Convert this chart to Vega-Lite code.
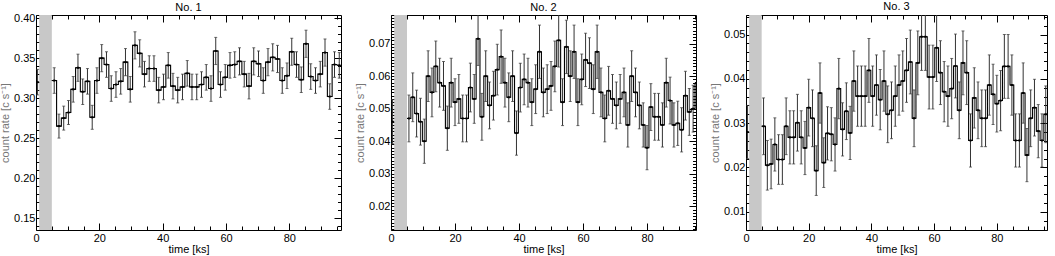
{
"$schema": "https://vega.github.io/schema/vega-lite/v6.json",
"padding": {"left": -1, "top": 0, "right": 0, "bottom": 0},
"bounds": "flush",
"spacing": 50,
"config": {
 "view": {"stroke": "black", "strokeWidth": 1},
 "axis": {"domain": false, "grid": false, "labelFont": "Liberation Sans", "labelFontSize": 11, "labelColor": "black", "titleFont": "Liberation Sans", "titleFontSize": 11, "titleFontWeight": "normal", "titleColor": "#777", "tickColor": "black", "labelOverlap": false, "labelFlush": false},
 "title": {"font": "Liberation Sans", "fontSize": 11, "fontWeight": "normal", "color": "black", "offset": -1, "anchor": "middle"}
},
"datasets": {
 "band": [{"g0": 1, "g1": 5}],
 "p1": [
  {"seg":"a","t0":0,"t":0.5,"t1":1,"r":0.320,"e":0.016},
  {"seg":"b","t0":5,"t":5.75,"t1":6.5,"r":0.322,"e":0.016},
  {"seg":"b","t0":6.5,"t":7.25,"t1":8,"r":0.265,"e":0.015},
  {"seg":"b","t0":8,"t":8.75,"t1":9.5,"r":0.275,"e":0.015},
  {"seg":"b","t0":9.5,"t":10.25,"t1":11,"r":0.282,"e":0.015},
  {"seg":"b","t0":11,"t":11.75,"t1":12.5,"r":0.311,"e":0.016},
  {"seg":"b","t0":12.5,"t":13.25,"t1":14,"r":0.338,"e":0.017},
  {"seg":"b","t0":14,"t":14.75,"t1":15.5,"r":0.308,"e":0.016},
  {"seg":"b","t0":15.5,"t":16.25,"t1":17,"r":0.321,"e":0.016},
  {"seg":"b","t0":17,"t":17.75,"t1":18.5,"r":0.276,"e":0.015},
  {"seg":"b","t0":18.5,"t":19.25,"t1":20,"r":0.322,"e":0.016},
  {"seg":"b","t0":20,"t":20.75,"t1":21.5,"r":0.350,"e":0.017},
  {"seg":"b","t0":21.5,"t":22.25,"t1":23,"r":0.342,"e":0.016},
  {"seg":"b","t0":23,"t":23.75,"t1":24.5,"r":0.312,"e":0.016},
  {"seg":"b","t0":24.5,"t":25.25,"t1":26,"r":0.317,"e":0.016},
  {"seg":"b","t0":26,"t":26.75,"t1":27.5,"r":0.321,"e":0.016},
  {"seg":"b","t0":27.5,"t":28.25,"t1":29,"r":0.345,"e":0.017},
  {"seg":"b","t0":29,"t":29.75,"t1":30.5,"r":0.311,"e":0.016},
  {"seg":"b","t0":30.5,"t":31.25,"t1":32,"r":0.366,"e":0.017},
  {"seg":"b","t0":32,"t":32.75,"t1":33.5,"r":0.356,"e":0.017},
  {"seg":"b","t0":33.5,"t":34.25,"t1":35,"r":0.330,"e":0.016},
  {"seg":"b","t0":35,"t":35.75,"t1":36.5,"r":0.337,"e":0.016},
  {"seg":"b","t0":36.5,"t":37.25,"t1":38,"r":0.337,"e":0.016},
  {"seg":"b","t0":38,"t":38.75,"t1":39.5,"r":0.310,"e":0.016},
  {"seg":"b","t0":39.5,"t":40.25,"t1":41,"r":0.314,"e":0.016},
  {"seg":"b","t0":41,"t":41.75,"t1":42.5,"r":0.341,"e":0.016},
  {"seg":"b","t0":42.5,"t":43.25,"t1":44,"r":0.315,"e":0.016},
  {"seg":"b","t0":44,"t":44.75,"t1":45.5,"r":0.310,"e":0.016},
  {"seg":"b","t0":45.5,"t":46.25,"t1":47,"r":0.314,"e":0.016},
  {"seg":"b","t0":47,"t":47.75,"t1":48.5,"r":0.331,"e":0.016},
  {"seg":"b","t0":48.5,"t":49.25,"t1":50,"r":0.314,"e":0.016},
  {"seg":"b","t0":50,"t":50.75,"t1":51.5,"r":0.314,"e":0.016},
  {"seg":"b","t0":51.5,"t":52.25,"t1":53,"r":0.317,"e":0.016},
  {"seg":"b","t0":53,"t":53.75,"t1":54.5,"r":0.326,"e":0.016},
  {"seg":"b","t0":54.5,"t":55.25,"t1":56,"r":0.312,"e":0.016},
  {"seg":"b","t0":56,"t":56.75,"t1":57.5,"r":0.359,"e":0.017},
  {"seg":"b","t0":57.5,"t":58.25,"t1":59,"r":0.317,"e":0.016},
  {"seg":"b","t0":59,"t":59.75,"t1":60.5,"r":0.326,"e":0.016},
  {"seg":"b","t0":60.5,"t":61.25,"t1":62,"r":0.341,"e":0.016},
  {"seg":"b","t0":62,"t":62.75,"t1":63.5,"r":0.342,"e":0.016},
  {"seg":"b","t0":63.5,"t":64.25,"t1":65,"r":0.346,"e":0.017},
  {"seg":"b","t0":65,"t":65.75,"t1":66.5,"r":0.330,"e":0.016},
  {"seg":"b","t0":66.5,"t":67.25,"t1":68,"r":0.315,"e":0.016},
  {"seg":"b","t0":68,"t":68.75,"t1":69.5,"r":0.346,"e":0.017},
  {"seg":"b","t0":69.5,"t":70.25,"t1":71,"r":0.343,"e":0.016},
  {"seg":"b","t0":71,"t":71.75,"t1":72.5,"r":0.322,"e":0.016},
  {"seg":"b","t0":72.5,"t":73.25,"t1":74,"r":0.345,"e":0.017},
  {"seg":"b","t0":74,"t":74.75,"t1":75.5,"r":0.351,"e":0.017},
  {"seg":"b","t0":75.5,"t":76.25,"t1":77,"r":0.349,"e":0.017},
  {"seg":"b","t0":77,"t":77.75,"t1":78.5,"r":0.322,"e":0.016},
  {"seg":"b","t0":78.5,"t":79.25,"t1":80,"r":0.328,"e":0.016},
  {"seg":"b","t0":80,"t":80.75,"t1":81.5,"r":0.358,"e":0.017},
  {"seg":"b","t0":81.5,"t":82.25,"t1":83,"r":0.342,"e":0.016},
  {"seg":"b","t0":83,"t":83.75,"t1":84.5,"r":0.323,"e":0.016},
  {"seg":"b","t0":84.5,"t":85.25,"t1":86,"r":0.368,"e":0.017},
  {"seg":"b","t0":86,"t":86.75,"t1":87.5,"r":0.327,"e":0.016},
  {"seg":"b","t0":87.5,"t":88.25,"t1":89,"r":0.322,"e":0.016},
  {"seg":"b","t0":89,"t":89.75,"t1":90.5,"r":0.330,"e":0.016},
  {"seg":"b","t0":90.5,"t":91.25,"t1":92,"r":0.357,"e":0.017},
  {"seg":"b","t0":92,"t":92.75,"t1":93.5,"r":0.302,"e":0.016},
  {"seg":"b","t0":93.5,"t":94.25,"t1":95,"r":0.342,"e":0.016},
  {"seg":"b","t0":95,"t":95.75,"t1":96.5,"r":0.341,"e":0.016}
 ],
 "p2": [
  {"seg":"a","t0":0,"t":0.5,"t1":1,"r":0.046,"e":0.0068},
  {"seg":"b","t0":5,"t":5.6,"t1":6.2,"r":0.047,"e":0.0072},
  {"seg":"b","t0":6.2,"t":6.8,"t1":7.4,"r":0.0535,"e":0.0075},
  {"seg":"b","t0":7.4,"t":8,"t1":8.6,"r":0.0485,"e":0.0072},
  {"seg":"b","t0":8.6,"t":9.2,"t1":9.8,"r":0.046,"e":0.0072},
  {"seg":"b","t0":9.8,"t":10.4,"t1":11,"r":0.040,"e":0.0068},
  {"seg":"b","t0":11,"t":11.6,"t1":12.2,"r":0.060,"e":0.0078},
  {"seg":"b","t0":12.2,"t":12.8,"t1":13.4,"r":0.055,"e":0.0075},
  {"seg":"b","t0":13.4,"t":14,"t1":14.6,"r":0.063,"e":0.0078},
  {"seg":"b","t0":14.6,"t":15.2,"t1":15.8,"r":0.058,"e":0.0075},
  {"seg":"b","t0":15.8,"t":16.4,"t1":17,"r":0.057,"e":0.0075},
  {"seg":"b","t0":17,"t":17.6,"t1":18.2,"r":0.044,"e":0.0068},
  {"seg":"b","t0":18.2,"t":18.8,"t1":19.4,"r":0.058,"e":0.0075},
  {"seg":"b","t0":19.4,"t":20,"t1":20.6,"r":0.052,"e":0.0072},
  {"seg":"b","t0":20.6,"t":21.2,"t1":21.8,"r":0.053,"e":0.0075},
  {"seg":"b","t0":21.8,"t":22.4,"t1":23,"r":0.047,"e":0.0072},
  {"seg":"b","t0":23,"t":23.6,"t1":24.2,"r":0.047,"e":0.0072},
  {"seg":"b","t0":24.2,"t":24.8,"t1":25.4,"r":0.0565,"e":0.0075},
  {"seg":"b","t0":25.4,"t":26,"t1":26.6,"r":0.053,"e":0.0075},
  {"seg":"b","t0":26.6,"t":27.2,"t1":27.8,"r":0.0715,"e":0.0082},
  {"seg":"b","t0":27.8,"t":28.4,"t1":29,"r":0.0475,"e":0.0072},
  {"seg":"b","t0":29,"t":29.6,"t1":30.2,"r":0.060,"e":0.0078},
  {"seg":"b","t0":30.2,"t":30.8,"t1":31.4,"r":0.051,"e":0.0072},
  {"seg":"b","t0":31.4,"t":32,"t1":32.6,"r":0.054,"e":0.0075},
  {"seg":"b","t0":32.6,"t":33.2,"t1":33.8,"r":0.062,"e":0.0078},
  {"seg":"b","t0":33.8,"t":34.4,"t1":35,"r":0.066,"e":0.0082},
  {"seg":"b","t0":35,"t":35.6,"t1":36.2,"r":0.058,"e":0.0075},
  {"seg":"b","t0":36.2,"t":36.8,"t1":37.4,"r":0.0535,"e":0.0075},
  {"seg":"b","t0":37.4,"t":38,"t1":38.6,"r":0.060,"e":0.0078},
  {"seg":"b","t0":38.6,"t":39.2,"t1":39.8,"r":0.0425,"e":0.0068},
  {"seg":"b","t0":39.8,"t":40.4,"t1":41,"r":0.0565,"e":0.0075},
  {"seg":"b","t0":41,"t":41.6,"t1":42.2,"r":0.059,"e":0.0078},
  {"seg":"b","t0":42.2,"t":42.8,"t1":43.4,"r":0.058,"e":0.0075},
  {"seg":"b","t0":43.4,"t":44,"t1":44.6,"r":0.052,"e":0.0072},
  {"seg":"b","t0":44.6,"t":45.2,"t1":45.8,"r":0.056,"e":0.0075},
  {"seg":"b","t0":45.8,"t":46.4,"t1":47,"r":0.0675,"e":0.0082},
  {"seg":"b","t0":47,"t":47.6,"t1":48.2,"r":0.055,"e":0.0075},
  {"seg":"b","t0":48.2,"t":48.8,"t1":49.4,"r":0.056,"e":0.0075},
  {"seg":"b","t0":49.4,"t":50,"t1":50.6,"r":0.057,"e":0.0075},
  {"seg":"b","t0":50.6,"t":51.2,"t1":51.8,"r":0.063,"e":0.0078},
  {"seg":"b","t0":51.8,"t":52.4,"t1":53,"r":0.071,"e":0.0082},
  {"seg":"b","t0":53,"t":53.6,"t1":54.2,"r":0.052,"e":0.0072},
  {"seg":"b","t0":54.2,"t":54.8,"t1":55.4,"r":0.069,"e":0.0082},
  {"seg":"b","t0":55.4,"t":56,"t1":56.6,"r":0.060,"e":0.0078},
  {"seg":"b","t0":56.6,"t":57.2,"t1":57.8,"r":0.0675,"e":0.0082},
  {"seg":"b","t0":57.8,"t":58.4,"t1":59,"r":0.052,"e":0.0072},
  {"seg":"b","t0":59,"t":59.6,"t1":60.2,"r":0.059,"e":0.0078},
  {"seg":"b","t0":60.2,"t":60.8,"t1":61.4,"r":0.065,"e":0.0082},
  {"seg":"b","t0":61.4,"t":62,"t1":62.6,"r":0.064,"e":0.0078},
  {"seg":"b","t0":62.6,"t":63.2,"t1":63.8,"r":0.056,"e":0.0075},
  {"seg":"b","t0":63.8,"t":64.4,"t1":65,"r":0.0675,"e":0.0082},
  {"seg":"b","t0":65,"t":65.6,"t1":66.2,"r":0.055,"e":0.0075},
  {"seg":"b","t0":66.2,"t":66.8,"t1":67.4,"r":0.047,"e":0.0072},
  {"seg":"b","t0":67.4,"t":68,"t1":68.6,"r":0.0555,"e":0.0075},
  {"seg":"b","t0":68.6,"t":69.2,"t1":69.8,"r":0.053,"e":0.0075},
  {"seg":"b","t0":69.8,"t":70.4,"t1":71,"r":0.051,"e":0.0072},
  {"seg":"b","t0":71,"t":71.6,"t1":72.2,"r":0.053,"e":0.0075},
  {"seg":"b","t0":72.2,"t":72.8,"t1":73.4,"r":0.055,"e":0.0075},
  {"seg":"b","t0":73.4,"t":74,"t1":74.6,"r":0.045,"e":0.0068},
  {"seg":"b","t0":74.6,"t":75.2,"t1":75.8,"r":0.060,"e":0.0078},
  {"seg":"b","t0":75.8,"t":76.4,"t1":77,"r":0.055,"e":0.0075},
  {"seg":"b","t0":77,"t":77.6,"t1":78.2,"r":0.051,"e":0.0072},
  {"seg":"b","t0":78.2,"t":78.8,"t1":79.4,"r":0.045,"e":0.0068},
  {"seg":"b","t0":79.4,"t":80,"t1":80.6,"r":0.038,"e":0.0068},
  {"seg":"b","t0":80.6,"t":81.2,"t1":81.8,"r":0.0505,"e":0.0072},
  {"seg":"b","t0":81.8,"t":82.4,"t1":83,"r":0.0475,"e":0.0072},
  {"seg":"b","t0":83,"t":83.6,"t1":84.2,"r":0.0475,"e":0.0072},
  {"seg":"b","t0":84.2,"t":84.8,"t1":85.4,"r":0.045,"e":0.0068},
  {"seg":"b","t0":85.4,"t":86,"t1":86.6,"r":0.058,"e":0.0075},
  {"seg":"b","t0":86.6,"t":87.2,"t1":87.8,"r":0.0525,"e":0.0072},
  {"seg":"b","t0":87.8,"t":88.4,"t1":89,"r":0.045,"e":0.0068},
  {"seg":"b","t0":89,"t":89.6,"t1":90.2,"r":0.0455,"e":0.0068},
  {"seg":"b","t0":90.2,"t":90.8,"t1":91.4,"r":0.0435,"e":0.0068},
  {"seg":"b","t0":91.4,"t":92,"t1":92.6,"r":0.054,"e":0.0075},
  {"seg":"b","t0":92.6,"t":93.2,"t1":93.8,"r":0.049,"e":0.0072},
  {"seg":"b","t0":93.8,"t":94.4,"t1":95,"r":0.050,"e":0.0072},
  {"seg":"b","t0":95,"t":95.6,"t1":96.2,"r":0.058,"e":0.0075}
 ],
 "p3": [
  {"seg":"a","t0":0,"t":0.5,"t1":1,"r":0.028,"e":0.006},
  {"seg":"b","t0":5,"t":5.6,"t1":6.2,"r":0.0293,"e":0.0064},
  {"seg":"b","t0":6.2,"t":6.8,"t1":7.4,"r":0.0205,"e":0.0056},
  {"seg":"b","t0":7.4,"t":8,"t1":8.6,"r":0.0208,"e":0.0056},
  {"seg":"b","t0":8.6,"t":9.2,"t1":9.8,"r":0.0252,"e":0.006},
  {"seg":"b","t0":9.8,"t":10.4,"t1":11,"r":0.0218,"e":0.0056},
  {"seg":"b","t0":11,"t":11.6,"t1":12.2,"r":0.0218,"e":0.0056},
  {"seg":"b","t0":12.2,"t":12.8,"t1":13.4,"r":0.0293,"e":0.0064},
  {"seg":"b","t0":13.4,"t":14,"t1":14.6,"r":0.0268,"e":0.006},
  {"seg":"b","t0":14.6,"t":15.2,"t1":15.8,"r":0.0268,"e":0.006},
  {"seg":"b","t0":15.8,"t":16.4,"t1":17,"r":0.0301,"e":0.0064},
  {"seg":"b","t0":17,"t":17.6,"t1":18.2,"r":0.0268,"e":0.006},
  {"seg":"b","t0":18.2,"t":18.8,"t1":19.4,"r":0.0244,"e":0.006},
  {"seg":"b","t0":19.4,"t":20,"t1":20.6,"r":0.0335,"e":0.0064},
  {"seg":"b","t0":20.6,"t":21.2,"t1":21.8,"r":0.0311,"e":0.0064},
  {"seg":"b","t0":21.8,"t":22.4,"t1":23,"r":0.0193,"e":0.0056},
  {"seg":"b","t0":23,"t":23.6,"t1":24.2,"r":0.0368,"e":0.0068},
  {"seg":"b","t0":24.2,"t":24.8,"t1":25.4,"r":0.0211,"e":0.0056},
  {"seg":"b","t0":25.4,"t":26,"t1":26.6,"r":0.0277,"e":0.006},
  {"seg":"b","t0":26.6,"t":27.2,"t1":27.8,"r":0.0275,"e":0.006},
  {"seg":"b","t0":27.8,"t":28.4,"t1":29,"r":0.0252,"e":0.006},
  {"seg":"b","t0":29,"t":29.6,"t1":30.2,"r":0.0378,"e":0.0068},
  {"seg":"b","t0":30.2,"t":30.8,"t1":31.4,"r":0.0286,"e":0.006},
  {"seg":"b","t0":31.4,"t":32,"t1":32.6,"r":0.0327,"e":0.0064},
  {"seg":"b","t0":32.6,"t":33.2,"t1":33.8,"r":0.0278,"e":0.006},
  {"seg":"b","t0":33.8,"t":34.4,"t1":35,"r":0.0395,"e":0.0068},
  {"seg":"b","t0":35,"t":35.6,"t1":36.2,"r":0.0361,"e":0.0068},
  {"seg":"b","t0":36.2,"t":36.8,"t1":37.4,"r":0.0361,"e":0.0068},
  {"seg":"b","t0":37.4,"t":38,"t1":38.6,"r":0.0361,"e":0.0068},
  {"seg":"b","t0":38.6,"t":39.2,"t1":39.8,"r":0.0419,"e":0.0072},
  {"seg":"b","t0":39.8,"t":40.4,"t1":41,"r":0.0361,"e":0.0068},
  {"seg":"b","t0":41,"t":41.6,"t1":42.2,"r":0.0386,"e":0.0068},
  {"seg":"b","t0":42.2,"t":42.8,"t1":43.4,"r":0.0353,"e":0.0068},
  {"seg":"b","t0":43.4,"t":44,"t1":44.6,"r":0.0395,"e":0.0068},
  {"seg":"b","t0":44.6,"t":45.2,"t1":45.8,"r":0.032,"e":0.0064},
  {"seg":"b","t0":45.8,"t":46.4,"t1":47,"r":0.0329,"e":0.0064},
  {"seg":"b","t0":47,"t":47.6,"t1":48.2,"r":0.0361,"e":0.0068},
  {"seg":"b","t0":48.2,"t":48.8,"t1":49.4,"r":0.0386,"e":0.0068},
  {"seg":"b","t0":49.4,"t":50,"t1":50.6,"r":0.0395,"e":0.0068},
  {"seg":"b","t0":50.6,"t":51.2,"t1":51.8,"r":0.0419,"e":0.0072},
  {"seg":"b","t0":51.8,"t":52.4,"t1":53,"r":0.0438,"e":0.0072},
  {"seg":"b","t0":53,"t":53.6,"t1":54.2,"r":0.0311,"e":0.0064},
  {"seg":"b","t0":54.2,"t":54.8,"t1":55.4,"r":0.0436,"e":0.0072},
  {"seg":"b","t0":55.4,"t":56,"t1":56.6,"r":0.0495,"e":0.0076},
  {"seg":"b","t0":56.6,"t":57.2,"t1":57.8,"r":0.0495,"e":0.0076},
  {"seg":"b","t0":57.8,"t":58.4,"t1":59,"r":0.0404,"e":0.0072},
  {"seg":"b","t0":59,"t":59.6,"t1":60.2,"r":0.0404,"e":0.0072},
  {"seg":"b","t0":60.2,"t":60.8,"t1":61.4,"r":0.047,"e":0.0076},
  {"seg":"b","t0":61.4,"t":62,"t1":62.6,"r":0.0414,"e":0.0072},
  {"seg":"b","t0":62.6,"t":63.2,"t1":63.8,"r":0.0371,"e":0.0068},
  {"seg":"b","t0":63.8,"t":64.4,"t1":65,"r":0.0361,"e":0.0068},
  {"seg":"b","t0":65,"t":65.6,"t1":66.2,"r":0.0378,"e":0.0068},
  {"seg":"b","t0":66.2,"t":66.8,"t1":67.4,"r":0.0429,"e":0.0072},
  {"seg":"b","t0":67.4,"t":68,"t1":68.6,"r":0.0329,"e":0.0064},
  {"seg":"b","t0":68.6,"t":69.2,"t1":69.8,"r":0.0436,"e":0.0072},
  {"seg":"b","t0":69.8,"t":70.4,"t1":71,"r":0.0414,"e":0.0072},
  {"seg":"b","t0":71,"t":71.6,"t1":72.2,"r":0.0261,"e":0.006},
  {"seg":"b","t0":72.2,"t":72.8,"t1":73.4,"r":0.0357,"e":0.0068},
  {"seg":"b","t0":73.4,"t":74,"t1":74.6,"r":0.0329,"e":0.0064},
  {"seg":"b","t0":74.6,"t":75.2,"t1":75.8,"r":0.0311,"e":0.0064},
  {"seg":"b","t0":75.8,"t":76.4,"t1":77,"r":0.0311,"e":0.0064},
  {"seg":"b","t0":77,"t":77.6,"t1":78.2,"r":0.0386,"e":0.0068},
  {"seg":"b","t0":78.2,"t":78.8,"t1":79.4,"r":0.0365,"e":0.0068},
  {"seg":"b","t0":79.4,"t":80,"t1":80.6,"r":0.0344,"e":0.0064},
  {"seg":"b","t0":80.6,"t":81.2,"t1":81.8,"r":0.0351,"e":0.0068},
  {"seg":"b","t0":81.8,"t":82.4,"t1":83,"r":0.0428,"e":0.0072},
  {"seg":"b","t0":83,"t":83.6,"t1":84.2,"r":0.0428,"e":0.0072},
  {"seg":"b","t0":84.2,"t":84.8,"t1":85.4,"r":0.0386,"e":0.0068},
  {"seg":"b","t0":85.4,"t":86,"t1":86.6,"r":0.0261,"e":0.006},
  {"seg":"b","t0":86.6,"t":87.2,"t1":87.8,"r":0.0261,"e":0.006},
  {"seg":"b","t0":87.8,"t":88.4,"t1":89,"r":0.0368,"e":0.0068},
  {"seg":"b","t0":89,"t":89.6,"t1":90.2,"r":0.0228,"e":0.006},
  {"seg":"b","t0":90.2,"t":90.8,"t1":91.4,"r":0.0311,"e":0.0064},
  {"seg":"b","t0":91.4,"t":92,"t1":92.6,"r":0.0335,"e":0.0064},
  {"seg":"b","t0":92.6,"t":93.2,"t1":93.8,"r":0.0282,"e":0.006},
  {"seg":"b","t0":93.8,"t":94.4,"t1":95,"r":0.0261,"e":0.006},
  {"seg":"b","t0":95,"t":95.6,"t1":96.2,"r":0.032,"e":0.0064},
  {"seg":"b","t0":96.2,"t":96.8,"t1":97.4,"r":0.0301,"e":0.0064}
 ]
},
"hconcat": [
 {
  "title": "No. 1", "width": 305, "height": 215,
  "resolve": {"axis": {"x": "independent", "y": "independent"}},
  "layer": [
   {"data": {"name": "band"}, "mark": {"type": "rect", "color": "#c8c8c8"},
    "encoding": {"x": {"field": "g0", "type": "quantitative", "scale": {"domain": [0, 96.3], "nice": false, "zero": false}, "axis": null}, "x2": {"field": "g1"}}},
   {"data": {"name": "p1"}, "mark": {"type": "line", "interpolate": "step-after", "color": "black", "strokeWidth": 1.1, "clip": true},
    "encoding": {
     "x": {"field": "t0", "type": "quantitative", "scale": {"domain": [0, 96.3], "nice": false, "zero": false},
       "axis": {"orient": "bottom", "values": [0,5,10,15,20,25,30,35,40,45,50,55,60,65,70,75,80,85,90,95], "tickSize": {"condition": {"test": "datum.value % 20 === 0", "value": -7}, "value": -4}, "labelExpr": "datum.value % 20 === 0 ? datum.label : ''", "labelPadding": 9, "title": "time [ks]", "titlePadding": -3, "titleColor": "black"}},
     "y": {"field": "r", "type": "quantitative", "scale": {"domain": [0.135, 0.404], "nice": false, "zero": false},
       "axis": {"orient": "left", "values": [0.14,0.15,0.16,0.17,0.18,0.19,0.2,0.21,0.22,0.23,0.24,0.25,0.26,0.27,0.28,0.29,0.3,0.31,0.32,0.33,0.34,0.35,0.36,0.37,0.38,0.39,0.4], "format": ".2f", "tickSize": {"condition": {"test": "round(datum.value*100) % 5 === 0", "value": -7}, "value": -3.5}, "labelExpr": "round(datum.value*100) % 5 === 0 ? datum.label : ''", "labelPadding": 8, "title": "count rate [c s⁻¹]", "titlePadding": 3}},
     "detail": {"field": "seg"}}},
   {"data": {"name": "p1"}, "mark": {"type": "rule", "color": "black", "strokeWidth": 1.1, "clip": true},
    "encoding": {"x": {"field": "t0", "type": "quantitative", "scale": {"domain": [0, 96.3], "nice": false, "zero": false}, "axis": null}, "x2": {"field": "t1"},
     "y": {"field": "r", "type": "quantitative", "scale": {"domain": [0.135, 0.404], "nice": false, "zero": false}, "axis": null}}},
   {"data": {"name": "p1"}, "mark": {"type": "errorbar", "ticks": {"size": 3}, "color": "#333", "clip": true},
    "encoding": {"x": {"field": "t", "type": "quantitative", "scale": {"domain": [0, 96.3], "nice": false, "zero": false}, "axis": null},
     "y": {"field": "r", "type": "quantitative", "scale": {"domain": [0.135, 0.404], "nice": false, "zero": false}, "axis": null}, "yError": {"field": "e"}}},
   {"data": {"name": "p1"}, "mark": {"type": "square", "size": 4, "color": "black", "opacity": 1, "clip": true},
    "encoding": {
     "x": {"field": "t", "type": "quantitative", "scale": {"domain": [0, 96.3], "nice": false, "zero": false},
       "axis": {"orient": "top", "values": [0,5,10,15,20,25,30,35,40,45,50,55,60,65,70,75,80,85,90,95], "tickSize": {"condition": {"test": "datum.value % 20 === 0", "value": -7}, "value": -4}, "labels": false, "title": null}},
     "y": {"field": "r", "type": "quantitative", "scale": {"domain": [0.135, 0.404], "nice": false, "zero": false},
       "axis": {"orient": "right", "values": [0.14,0.15,0.16,0.17,0.18,0.19,0.2,0.21,0.22,0.23,0.24,0.25,0.26,0.27,0.28,0.29,0.3,0.31,0.32,0.33,0.34,0.35,0.36,0.37,0.38,0.39,0.4], "tickSize": {"condition": {"test": "round(datum.value*100) % 5 === 0", "value": -7}, "value": -3.5}, "labels": false, "title": null}}}}
  ]
 },
 {
  "title": "No. 2", "width": 305, "height": 215,
  "resolve": {"axis": {"x": "independent", "y": "independent"}},
  "layer": [
   {"data": {"name": "band"}, "mark": {"type": "rect", "color": "#c8c8c8"},
    "encoding": {"x": {"field": "g0", "type": "quantitative", "scale": {"domain": [0, 95.3], "nice": false, "zero": false}, "axis": null}, "x2": {"field": "g1"}}},
   {"data": {"name": "p2"}, "mark": {"type": "line", "interpolate": "step-after", "color": "black", "strokeWidth": 1.1, "clip": true},
    "encoding": {
     "x": {"field": "t0", "type": "quantitative", "scale": {"domain": [0, 95.3], "nice": false, "zero": false},
       "axis": {"orient": "bottom", "values": [0,5,10,15,20,25,30,35,40,45,50,55,60,65,70,75,80,85,90,95], "tickSize": {"condition": {"test": "datum.value % 20 === 0", "value": -7}, "value": -4}, "labelExpr": "datum.value % 20 === 0 ? datum.label : ''", "labelPadding": 9, "title": "time [ks]", "titlePadding": -3, "titleColor": "black"}},
     "y": {"field": "r", "type": "quantitative", "scale": {"domain": [0.0127, 0.0788], "nice": false, "zero": false},
       "axis": {"orient": "left", "values": [0.013,0.014,0.015,0.016,0.017,0.018,0.019,0.02,0.021,0.022,0.023,0.024,0.025,0.026,0.027,0.028,0.029,0.03,0.031,0.032,0.033,0.034,0.035,0.036,0.037,0.038,0.039,0.04,0.041,0.042,0.043,0.044,0.045,0.046,0.047,0.048,0.049,0.05,0.051,0.052,0.053,0.054,0.055,0.056,0.057,0.058,0.059,0.06,0.061,0.062,0.063,0.064,0.065,0.066,0.067,0.068,0.069,0.07,0.071,0.072,0.073,0.074,0.075,0.076,0.077,0.078], "format": ".2f", "tickSize": {"condition": {"test": "round(datum.value*1000) % 10 === 0", "value": -7}, "value": -3.5}, "labelExpr": "round(datum.value*1000) % 10 === 0 ? datum.label : ''", "labelPadding": 8, "title": "count rate [c s⁻¹]", "titlePadding": 3}},
     "detail": {"field": "seg"}}},
   {"data": {"name": "p2"}, "mark": {"type": "rule", "color": "black", "strokeWidth": 1.1, "clip": true},
    "encoding": {"x": {"field": "t0", "type": "quantitative", "scale": {"domain": [0, 95.3], "nice": false, "zero": false}, "axis": null}, "x2": {"field": "t1"},
     "y": {"field": "r", "type": "quantitative", "scale": {"domain": [0.0127, 0.0788], "nice": false, "zero": false}, "axis": null}}},
   {"data": {"name": "p2"}, "mark": {"type": "errorbar", "ticks": {"size": 3}, "color": "#333", "clip": true},
    "encoding": {"x": {"field": "t", "type": "quantitative", "scale": {"domain": [0, 95.3], "nice": false, "zero": false}, "axis": null},
     "y": {"field": "r", "type": "quantitative", "scale": {"domain": [0.0127, 0.0788], "nice": false, "zero": false}, "axis": null}, "yError": {"field": "e"}}},
   {"data": {"name": "p2"}, "mark": {"type": "square", "size": 4, "color": "black", "opacity": 1, "clip": true},
    "encoding": {
     "x": {"field": "t", "type": "quantitative", "scale": {"domain": [0, 95.3], "nice": false, "zero": false},
       "axis": {"orient": "top", "values": [0,5,10,15,20,25,30,35,40,45,50,55,60,65,70,75,80,85,90,95], "tickSize": {"condition": {"test": "datum.value % 20 === 0", "value": -7}, "value": -4}, "labels": false, "title": null}},
     "y": {"field": "r", "type": "quantitative", "scale": {"domain": [0.0127, 0.0788], "nice": false, "zero": false},
       "axis": {"orient": "right", "values": [0.013,0.014,0.015,0.016,0.017,0.018,0.019,0.02,0.021,0.022,0.023,0.024,0.025,0.026,0.027,0.028,0.029,0.03,0.031,0.032,0.033,0.034,0.035,0.036,0.037,0.038,0.039,0.04,0.041,0.042,0.043,0.044,0.045,0.046,0.047,0.048,0.049,0.05,0.051,0.052,0.053,0.054,0.055,0.056,0.057,0.058,0.059,0.06,0.061,0.062,0.063,0.064,0.065,0.066,0.067,0.068,0.069,0.07,0.071,0.072,0.073,0.074,0.075,0.076,0.077,0.078], "tickSize": {"condition": {"test": "round(datum.value*1000) % 10 === 0", "value": -7}, "value": -3.5}, "labels": false, "title": null}}}}
  ]
 },
 {
  "title": "No. 3", "width": 301, "height": 215,
  "resolve": {"axis": {"x": "independent", "y": "independent"}},
  "layer": [
   {"data": {"name": "band"}, "mark": {"type": "rect", "color": "#c8c8c8"},
    "encoding": {"x": {"field": "g0", "type": "quantitative", "scale": {"domain": [0, 96.0], "nice": false, "zero": false}, "axis": null}, "x2": {"field": "g1"}}},
   {"data": {"name": "p3"}, "mark": {"type": "line", "interpolate": "step-after", "color": "black", "strokeWidth": 1.1, "clip": true},
    "encoding": {
     "x": {"field": "t0", "type": "quantitative", "scale": {"domain": [0, 96.0], "nice": false, "zero": false},
       "axis": {"orient": "bottom", "values": [0,5,10,15,20,25,30,35,40,45,50,55,60,65,70,75,80,85,90,95], "tickSize": {"condition": {"test": "datum.value % 20 === 0", "value": -7}, "value": -4}, "labelExpr": "datum.value % 20 === 0 ? datum.label : ''", "labelPadding": 9, "title": "time [ks]", "titlePadding": -3, "titleColor": "black"}},
     "y": {"field": "r", "type": "quantitative", "scale": {"domain": [0.0059, 0.0544], "nice": false, "zero": false},
       "axis": {"orient": "left", "values": [0.006,0.008,0.01,0.012,0.014,0.016,0.018,0.02,0.022,0.024,0.026,0.028,0.03,0.032,0.034,0.036,0.038,0.04,0.042,0.044,0.046,0.048,0.05,0.052,0.054], "format": ".2f", "tickSize": {"condition": {"test": "round(datum.value*1000) % 10 === 0", "value": -7}, "value": -3.5}, "labelExpr": "round(datum.value*1000) % 10 === 0 ? datum.label : ''", "labelPadding": 8, "title": "count rate [c s⁻¹]", "titlePadding": 3}},
     "detail": {"field": "seg"}}},
   {"data": {"name": "p3"}, "mark": {"type": "rule", "color": "black", "strokeWidth": 1.1, "clip": true},
    "encoding": {"x": {"field": "t0", "type": "quantitative", "scale": {"domain": [0, 96.0], "nice": false, "zero": false}, "axis": null}, "x2": {"field": "t1"},
     "y": {"field": "r", "type": "quantitative", "scale": {"domain": [0.0059, 0.0544], "nice": false, "zero": false}, "axis": null}}},
   {"data": {"name": "p3"}, "mark": {"type": "errorbar", "ticks": {"size": 3}, "color": "#333", "clip": true},
    "encoding": {"x": {"field": "t", "type": "quantitative", "scale": {"domain": [0, 96.0], "nice": false, "zero": false}, "axis": null},
     "y": {"field": "r", "type": "quantitative", "scale": {"domain": [0.0059, 0.0544], "nice": false, "zero": false}, "axis": null}, "yError": {"field": "e"}}},
   {"data": {"name": "p3"}, "mark": {"type": "square", "size": 4, "color": "black", "opacity": 1, "clip": true},
    "encoding": {
     "x": {"field": "t", "type": "quantitative", "scale": {"domain": [0, 96.0], "nice": false, "zero": false},
       "axis": {"orient": "top", "values": [0,5,10,15,20,25,30,35,40,45,50,55,60,65,70,75,80,85,90,95], "tickSize": {"condition": {"test": "datum.value % 20 === 0", "value": -7}, "value": -4}, "labels": false, "title": null}},
     "y": {"field": "r", "type": "quantitative", "scale": {"domain": [0.0059, 0.0544], "nice": false, "zero": false},
       "axis": {"orient": "right", "values": [0.006,0.008,0.01,0.012,0.014,0.016,0.018,0.02,0.022,0.024,0.026,0.028,0.03,0.032,0.034,0.036,0.038,0.04,0.042,0.044,0.046,0.048,0.05,0.052,0.054], "tickSize": {"condition": {"test": "round(datum.value*1000) % 10 === 0", "value": -7}, "value": -3.5}, "labels": false, "title": null}}}}
  ]
 }
]
}
